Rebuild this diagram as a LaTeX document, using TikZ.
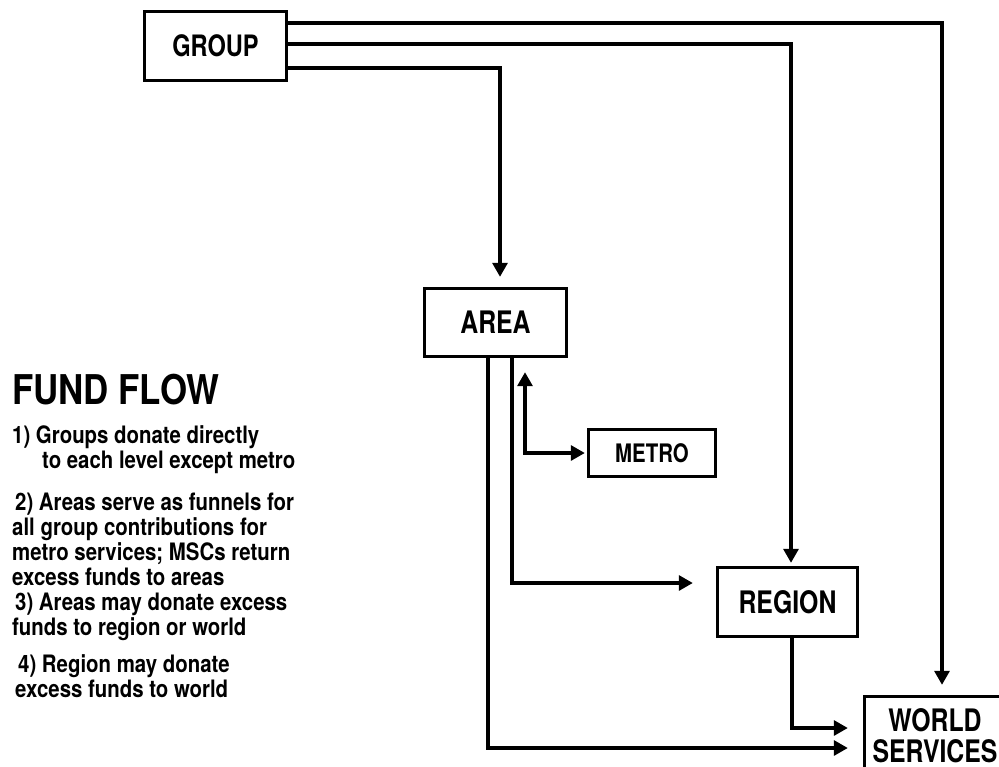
\documentclass[tikz,border=0pt]{standalone}
\usepackage{fontspec}
\setmainfont{TeX Gyre Heros}
\newfontfamily\lblfont[FakeStretch=0.8]{TeX Gyre Heros}
\newfontfamily\ttlfont[FakeStretch=0.85]{TeX Gyre Heros}
\newfontfamily\bodyfont[FakeStretch=0.85]{TeX Gyre Heros}
\usetikzlibrary{arrows.meta}
\tikzset{
  box/.style={draw, line width=3.4pt, inner sep=0pt, align=center},
  conn/.style={line width=3.2pt, -{Triangle[length=14pt,width=15pt]}},
  dconn/.style={line width=3.2pt, {Triangle[length=14pt,width=15pt]}-{Triangle[length=14pt,width=15pt]}},
  txt/.style={anchor=base west, inner sep=0pt, font=\bodyfont\bfseries\fontsize{24}{25}\selectfont},
}
\begin{document}
\begin{tikzpicture}[x=1pt,y=-1pt]
\useasboundingbox (0,0) rectangle (999,766);
\clip (0,0) rectangle (999,766);
\node[box, minimum width=142pt, minimum height=69pt, font=\lblfont\bfseries\fontsize{29.5}{32}\selectfont] (group) at (215.5,46) {GROUP};
\node[box, minimum width=142pt, minimum height=68pt, font=\lblfont\bfseries\fontsize{31}{32}\selectfont] (area) at (495.5,322.5) {AREA};
\node[box, minimum width=127pt, minimum height=47pt, font=\lblfont\bfseries\fontsize{25.5}{28}\selectfont] (metro) at (652,453) {METRO};
\node[box, minimum width=140pt, minimum height=69pt, font=\lblfont\bfseries\fontsize{31}{32}\selectfont] (region) at (787.5,602) {REGION};
\node[box, minimum width=141pt, minimum height=79pt, font=\lblfont\bfseries\fontsize{31}{31}\selectfont] (world) at (935,736) {WORLD\\SERVICES};

\draw[conn, shorten >=10pt] (group.east |- 0,23) -| (world.north -| 942,0);
\draw[conn, shorten >=3pt] (group.east |- 0,44) -| (region.north -| 791,0);
\draw[conn, shorten >=10pt] (group.east |- 0,68) -| (area.north -| 500,0);
\draw[conn, shorten >=15pt] (area.south -| 488,0) |- (world.west |- 0,748);
\draw[conn, shorten >=23pt] (area.south -| 512,0) |- (region.west |- 0,583);
\draw[dconn, shorten <=14pt, shorten >=2pt] (area.south -| 525,0) |- (metro.west);
\draw[conn, shorten >=15pt] (region.south -| 792,0) |- (world.west |- 0,728);

\node[anchor=base west, inner sep=0pt, font=\ttlfont\bfseries\fontsize{41}{44}\selectfont] (title) at (12,404) {FUND FLOW};
\node[txt] (l1) at (12,443) {1) Groups donate directly};
\node[txt] (l2) at (42,468) {to each level except metro};
\node[txt] (l3) at (15,510) {2) Areas serve as funnels for};
\node[txt] (l4) at (12,535) {all group contributions for};
\node[txt] (l5) at (12,560) {metro services; MSCs return};
\node[txt] (l6) at (12,585) {excess funds to areas};
\node[txt] (l7) at (15,610) {3) Areas may donate excess};
\node[txt] (l8) at (12,635) {funds to region or world};
\node[txt] (l9) at (18,672) {4) Region may donate};
\node[txt] (l10) at (15,697) {excess funds to world};
\end{tikzpicture}
\end{document}
